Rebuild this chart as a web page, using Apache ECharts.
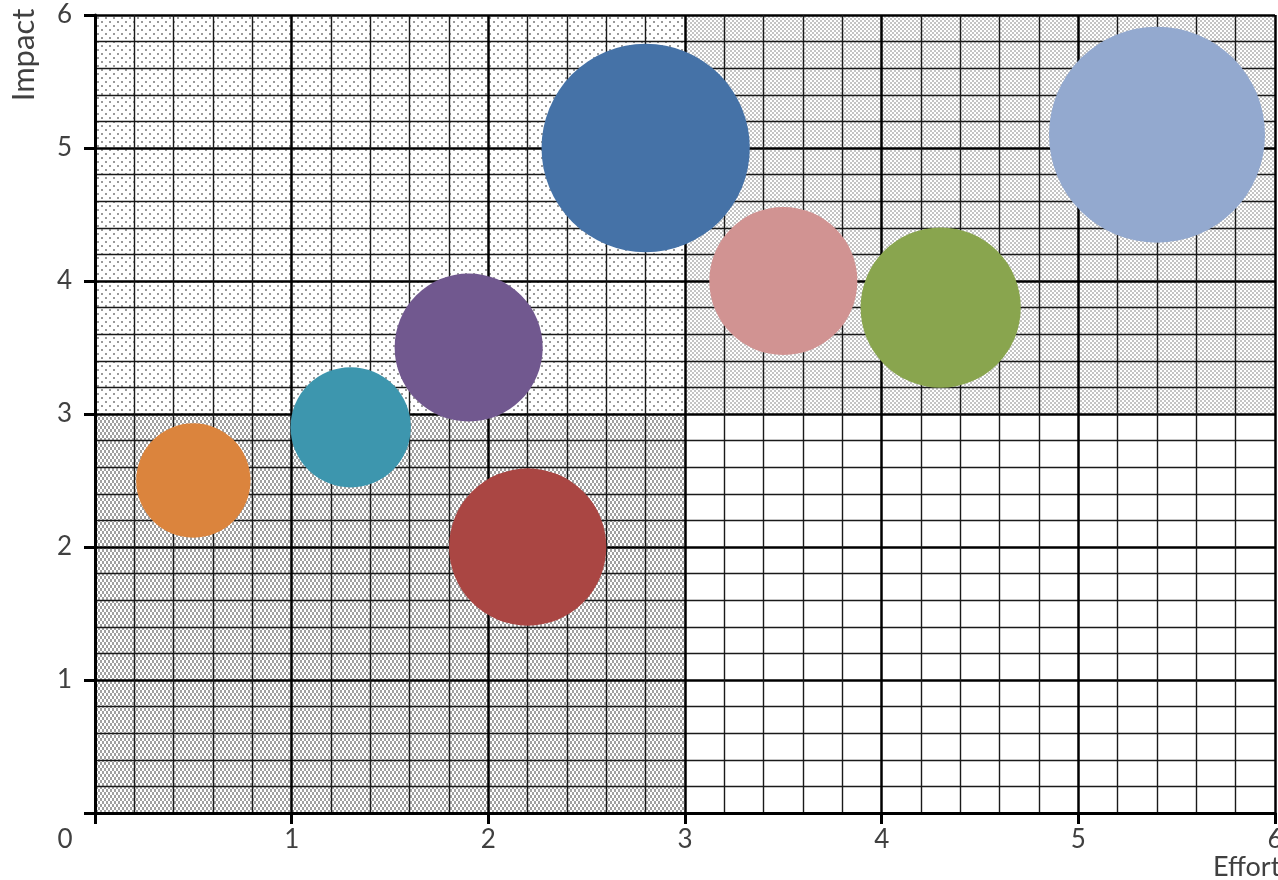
<!DOCTYPE html>
<html>
<head>
<meta charset="utf-8">
<script src="https://cdn.jsdelivr.net/npm/echarts@6/dist/echarts.min.js"></script>
<style>html,body{margin:0;padding:0;background:#fff}#chart{width:1278px;height:880px}</style>
</head>
<body>
<div id="chart"></div>
<script>
// ---- data ----
var effort = [0.5, 1.3, 1.9, 2.2, 2.8, 3.5, 4.3, 5.4];
var impact = [2.5, 2.9, 3.5, 2.0, 5.0, 4.0, 3.8, 5.1];
var bubbleSize = [28, 31, 47, 53, 93, 47, 55, 100];
var axisTicks = [0, 1, 2, 3, 4, 5, 6];
var quadX = [0, 3, 6];
var quadY = [0, 3, 6];

// ---- styles ----
var palette = ['#DB843D', '#3D96AE', '#71588F', '#AA4643', '#4572A7', '#D19392', '#89A54E', '#93A9CF'];
var textColor = '#404040';
var fontFam = 'Lato';

function makePattern(kind) {
  var c = document.createElement('canvas');
  var ctx = c.getContext('2d');
  if (kind === 'sparse') {
    c.width = 8; c.height = 8;
    ctx.fillStyle = '#fff'; ctx.fillRect(0, 0, 8, 8);
    ctx.fillStyle = '#9a9a9a';
    ctx.fillRect(1, 1, 2, 2);
    ctx.fillRect(5, 5, 2, 2);
  } else if (kind === 'dense') {
    c.width = 4; c.height = 6;
    ctx.fillStyle = '#fff'; ctx.fillRect(0, 0, 4, 6);
    ctx.fillStyle = '#a0a0a0';
    ctx.fillRect(0, 0, 2, 3);
    ctx.fillRect(2, 3, 2, 3);
  } else if (kind === 'light') {
    c.width = 4; c.height = 4;
    ctx.fillStyle = '#fff'; ctx.fillRect(0, 0, 4, 4);
    ctx.fillStyle = '#c4c4c4';
    ctx.fillRect(0, 0, 2, 2);
    ctx.fillRect(2, 2, 2, 2);
  } else {
    c.width = 4; c.height = 4;
    ctx.fillStyle = '#fff'; ctx.fillRect(0, 0, 4, 4);
  }
  return { image: c, repeat: 'repeat' };
}

// quadrant fills: [xIndexStart, yIndexStart, kind]
var quadKinds = [
  [0, 0, 'dense'],
  [0, 1, 'sparse'],
  [1, 1, 'light'],
  [1, 0, 'white']
];
var markAreaData = quadKinds.map(function (q) {
  return [
    { coord: [quadX[q[0]], quadY[q[1]]], itemStyle: { color: makePattern(q[2]), opacity: 1, borderWidth: 0 } },
    { coord: [quadX[q[0] + 1], quadY[q[1] + 1]] }
  ];
});

var bubbles = effort.map(function (x, i) {
  return { value: [x, impact[i], bubbleSize[i]], itemStyle: { color: palette[i], opacity: 1 } };
});

var chart = echarts.init(document.getElementById('chart'));
function axisCommon() {
  return {
    type: 'value', min: axisTicks[0], max: axisTicks[axisTicks.length - 1], interval: 1,
    z: 3,
    axisLine: { show: true, onZero: false, lineStyle: { color: '#000', width: 3 } },
    axisTick: { show: true, length: 11, lineStyle: { color: '#000', width: 3 } },
    splitLine: { show: true, lineStyle: { color: '#000', width: 2.5 } },
    minorTick: { show: false, splitNumber: 5 },
    minorSplitLine: { show: true, lineStyle: { color: '#1a1a1a', width: 1.4 } },
    axisLabel: {
      color: textColor, fontSize: 26, fontFamily: fontFam,
      formatter: function (v) { return v === 0 ? '' : String(v); }
    }
  };
}
var xA = axisCommon();
xA.axisLabel.margin = 14;
var yA = axisCommon();
yA.axisLabel.margin = 23;

chart.setOption({
  animation: false,
  backgroundColor: '#fff',
  grid: { left: 95, top: 15, right: 3, bottom: 67, containLabel: false, outerBoundsMode: 'none' },
  xAxis: xA,
  yAxis: yA,
  graphic: [
    { type: 'text', x: 65, y: 827, style: { text: '0', fill: textColor, fontSize: 26, fontFamily: fontFam, align: 'center', verticalAlign: 'top' } },
    { type: 'text', x: 1213, y: 854, style: { text: 'Effort', fill: textColor, fontSize: 27, fontFamily: fontFam } },
    { type: 'text', x: 24, y: 55, rotation: Math.PI / 2, style: { text: 'Impact', fill: textColor, fontSize: 31, fontFamily: fontFam, align: 'center', verticalAlign: 'middle' } }
  ],
  series: [
    {
      type: 'scatter', z: 1, data: [], silent: true,
      markArea: { silent: true, z: 1, data: markAreaData }
    },
    {
      type: 'scatter', z: 5,
      data: bubbles,
      symbolSize: function (d) { return 216 * Math.sqrt(d[2] / 100); }
    }
  ]
});
</script>
</body>
</html>
